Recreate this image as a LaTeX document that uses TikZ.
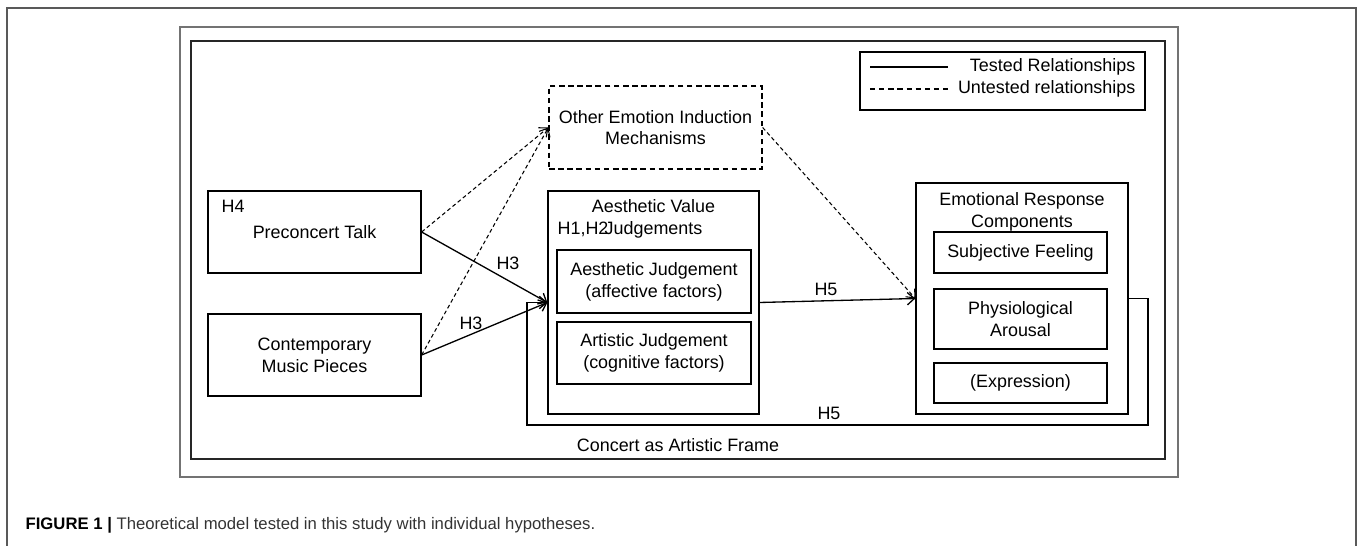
\documentclass[tikz,border=0pt]{standalone}
\usepackage{fontspec}
\setmainfont{Liberation Sans}
\usepackage{tikz}
\usetikzlibrary{arrows.meta, positioning}
\tikzstyle{block} = [rectangle, draw=black, text centered, align=center, inner sep=0pt]
\tikzstyle{dashblock} = [block, dash pattern=on 3.2pt off 2pt]
\tikzstyle{lbl} = [inner sep=0pt, align=center]
\tikzstyle{arrow} = [->, >={Straight Barb[length=4pt,width=7pt]}]
\tikzstyle{dasharrow} = [arrow, line width=0.6pt, dash pattern=on 2.2pt off 1.6pt]

\begin{document}
\begin{tikzpicture}[x=0.02cm, y=-0.02cm, line width=0.75pt, font=\fontsize{10.2}{12.4}\selectfont]
        \useasboundingbox (0,0) rectangle (1357,546);
        % page border and frames
        \draw [black!65] (7,546) -- (7,8) -- (1356,8) -- (1356,546);
        \draw [black!55] (180,27) rectangle (1178,477);
        \draw [black!85] (191,41) rectangle (1165,459);
        \node (frame) [lbl] at (678,445) {Concert as Artistic Frame};
        % legend
        \node (legend) [block, minimum width=5.7cm, minimum height=1.16cm] at (1002.5,81) {};
        \coordinate (solidA) at (870,67);
        \coordinate (solidB) at (948,67);
        \coordinate (dashA) at (870,89);
        \coordinate (dashB) at (948,89);
        \draw (solidA) -- (solidB);
        \draw [dash pattern=on 3pt off 2.2pt] (dashA) -- (dashB);
        \node (tested) [lbl, anchor=east] at (1136,67) {Tested Relationships};
        \node (untested) [lbl, anchor=east] at (1136,89) {Untested relationships};
        % inputs
        \node (talk) [block, minimum width=4.26cm, minimum height=1.64cm] at (314.5,232) {Preconcert Talk};
        \node (hypfour) [lbl, anchor=west] at (221,206) {H4};
        \node (music) [block, minimum width=4.26cm, minimum height=1.64cm] at (314.5,355) {Contemporary\\Music Pieces};
        \node (other) [dashblock, minimum width=4.26cm, minimum height=1.66cm] at (655.5,127.5) {Other Emotion Induction\\Mechanisms};
        % judgements
        \node (aesth) [block, minimum width=4.22cm, minimum height=4.46cm] at (653.5,302.5) {};
        \node (aesthtitle) [lbl] at (653.5,219) {Aesthetic Value\\Judgements};
        \node (hypot) [lbl, anchor=west] at (557,229) {H1,H2};
        \node (aj) [block, minimum width=3.88cm, minimum height=1.26cm] at (654,281.5) {Aesthetic Judgement\\(affective factors)};
        \node (arj) [block, minimum width=3.88cm, minimum height=1.24cm] at (654,353) {Artistic Judgement\\(cognitive factors)};
        % emotional response
        \node (erc) [block, minimum width=4.24cm, minimum height=4.62cm] at (1022,298.5) {};
        \node (erctitle) [lbl] at (1022,212) {Emotional Response\\Components};
        \node (feel) [block, minimum width=3.46cm, minimum height=0.82cm] at (1020.5,252.5) {Subjective Feeling};
        \node (arousal) [block, minimum width=3.46cm, minimum height=1.2cm] at (1020.5,319) {Physiological\\Arousal};
        \node (expr) [block, minimum width=3.46cm, minimum height=0.8cm] at (1020.5,383) {(Expression)};
        % relationships
        \draw [dasharrow] (talk.east) -- (other.west);
        \draw [dasharrow] (music.east) -- (other.west);
        \draw [arrow] (talk.east) -- (aesth.west);
        \draw [arrow] (music.east) -- (aesth.west);
        \draw [arrow] (aesth.east) -- (erc.west);
        \draw [dasharrow] (other.east) -- (erc.west);
        \coordinate (loopR) at (1148,425);
        \coordinate (loopL) at (527,425);
        \draw [arrow] (erc.east) -| (loopR) -- (loopL) |- (aesth.west);
        \node (hthreea) [lbl] at (508,263) {H3};
        \node (hthreeb) [lbl] at (471,323) {H3};
        \node (hfivea) [lbl] at (826,289) {H5};
        \node (hfiveb) [lbl] at (829,413) {H5};
        % caption
        \node (caption) [lbl, anchor=west, font=\fontsize{9.5}{11}\selectfont] at (25,525) {\textbf{FIGURE 1 |} \textcolor{black!80}{Theoretical model tested in this study with individual hypotheses.}};
    \end{tikzpicture}
\end{document}
